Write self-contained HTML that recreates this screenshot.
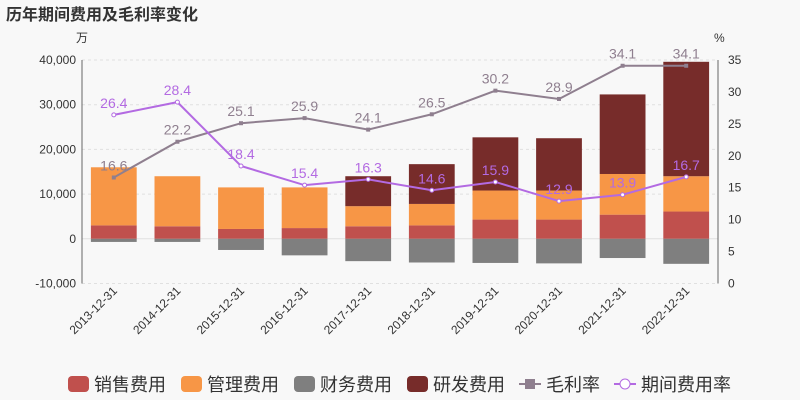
<!DOCTYPE html>
<html><head><meta charset="utf-8"><style>
body{margin:0;background:#f8f8f8;}
svg{display:block;font-family:"Liberation Sans","Noto Sans CJK SC",sans-serif;}
</style></head><body>
<svg id="c" width="800" height="400">
<rect width="800" height="400" fill="#f8f8f8"/>
<text x="6" y="20" font-size="16" font-weight="bold" fill="#333">历年期间费用及毛利率变化</text>
<text x="76" y="42" font-size="12" fill="#333">万</text>
<text x="714" y="42" font-size="12" fill="#333">%</text>
</svg>
<script>
const categories=["2013-12-31","2014-12-31","2015-12-31","2016-12-31","2017-12-31","2018-12-31","2019-12-31","2020-12-31","2021-12-31","2022-12-31"];
const sales=[3000,2800,2200,2400,2800,3000,4300,4300,5400,6100];
const admin=[13000,11200,9300,9100,4500,4800,6500,6500,9100,7900];
const finance=[-700,-700,-2500,-3700,-5000,-5300,-5400,-5500,-4300,-5600];
const rnd=[0,0,0,0,6700,8900,11900,11700,17800,25600];
const grossMargin=[16.6,22.2,25.1,25.9,24.1,26.5,30.2,28.9,34.1,34.1];
const expenseRate=[26.4,28.4,18.4,15.4,16.3,14.6,15.9,12.9,13.9,16.7];
const leftTicks=[-10000,0,10000,20000,30000,40000];
const rightTicks=[0,5,10,15,20,25,30,35];
const NS="http://www.w3.org/2000/svg",svg=document.getElementById('c');
const X0=82,X1=718,YT=60,YB=283.5;
const yL=v=>YB-(v+10000)/50000*(YB-YT);
const yR=v=>YB-v/35*(YB-YT);
const band=(X1-X0)/categories.length;
const xC=i=>X0+band*(i+0.5);
function mk(t,a,p){const e=document.createElementNS(NS,t);for(const k in a)e.setAttribute(k,a[k]);(p||svg).appendChild(e);return e;}
leftTicks.forEach(v=>{
 const g=mk('line',{x1:X0,x2:X1,y1:yL(v),y2:yL(v),stroke:'#e0e0e0','stroke-dasharray':v===0?'':'3,3'});
 
 
 const t=mk('text',{x:X0-6,y:yL(v)+4,'text-anchor':'end','font-size':12,fill:'#333'});t.textContent=v.toLocaleString('en-US');
 
 
});
rightTicks.forEach(v=>{
 const t=mk('text',{x:X1+10,y:yR(v)+4,'font-size':12,fill:'#333'});t.textContent=v;
 
 
});
mk('line',{x1:X0,x2:X0,y1:YT,y2:YB,stroke:'#666'});
mk('line',{x1:X1,x2:X1,y1:YT,y2:YB,stroke:'#666'});
const bw=band*0.72;
categories.forEach((c,i)=>{
 const x=xC(i)-bw/2;
 const segs=[[0,sales[i],'#c0504d','sales'],[sales[i],sales[i]+admin[i],'#f79646','admin'],[sales[i]+admin[i],sales[i]+admin[i]+rnd[i],'#772c2a','rnd'],[finance[i],0,'#7f7f7f','finance']];
 segs.forEach(s=>{if(s[1]===s[0])return;
  const r=mk('rect',{x:x,width:bw,y:yL(s[1]),height:yL(s[0])-yL(s[1]),fill:s[2]});
  
  
 });
 const t=mk('text',{'font-size':12,fill:'#333','text-anchor':'end',transform:`translate(${xC(i)+4},${YB+8}) rotate(-45)`});t.textContent=c;
 
 
});
function line(vals,col,name,circle){
 const p=mk('polyline',{points:vals.map((v,i)=>xC(i)+','+yR(v)).join(' '),fill:'none',stroke:col,'stroke-width':2});
 
 
 vals.forEach((v,i)=>{
  const m=circle?mk('circle',{cx:xC(i),cy:yR(v),r:2,fill:'#fff',stroke:col}):mk('rect',{x:xC(i)-2,y:yR(v)-2,width:4,height:4,fill:col});
  
  
  const t=mk('text',{x:xC(i),y:yR(v)-7,'text-anchor':'middle','font-size':14,fill:col});t.textContent=v;
  
  
 });
}
line(grossMargin,'#8f7f8f','gross-margin',false);
line(expenseRate,'#b36ae2','expense-rate',true);
const leg=[['销售费用','#c0504d','box',68],['管理费用','#f79646','box',181],['财务费用','#7f7f7f','box',294],['研发费用','#772c2a','box',407],['毛利率','#8f7f8f','sq',519],['期间费用率','#b36ae2','circ',614]];
leg.forEach(l=>{
 let lx=l[3];
 const g=mk('g',{});
 if(l[2]==='box'){mk('rect',{x:lx,y:376,width:21,height:16,rx:4,fill:l[1]},g);lx+=26;}
 else{mk('line',{x1:lx,x2:lx+22,y1:384,y2:384,stroke:l[1],'stroke-width':2},g);
  if(l[2]==='sq')mk('rect',{x:lx+6,y:379,width:10,height:10,fill:l[1]},g);else mk('circle',{cx:lx+11,cy:384,r:5,fill:'#fff',stroke:l[1]},g);lx+=27;}
 const t=mk('text',{x:lx,y:391,'font-size':18,fill:'#333'},g);t.textContent=l[0];
});
</script>
</body></html>
